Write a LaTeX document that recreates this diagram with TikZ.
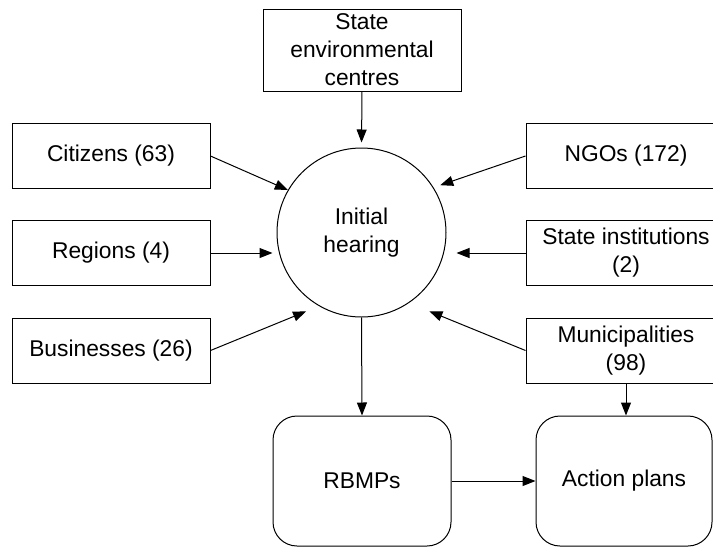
\documentclass[tikz,border=0pt]{standalone}
\usepackage{fontspec}
\setmainfont{Liberation Sans}
\usepackage{tikz}
\usetikzlibrary{arrows.meta, positioning, calc}
\usepackage{xcolor}
\definecolor{linegray}{HTML}{000000}

\begin{document}
\begin{tikzpicture}[x=0.5pt, y=-0.5pt,
        every node/.style={font=\fontsize{11.4}{14}\selectfont, align=center, inner sep=0pt},
        actorbox/.style={draw=linegray, line width=0.5pt, minimum width=99pt, minimum height=32.5pt},
        planbox/.style={draw=linegray, line width=0.5pt, rounded corners=12pt, minimum height=65pt},
        arr/.style={draw=linegray, line width=0.5pt, -{Triangle[length=6.5pt, width=5pt]}}]
    \useasboundingbox (0,0) rectangle (713,547);

    \node[circle, draw=linegray, line width=0.5pt, minimum size=84.5pt] (hearing) at (361.5,232.5) {Initial\\hearing};

    \node[actorbox, minimum height=41pt] (centres) at (362,50) {State\\environmental\\centres};

    \node[actorbox] (citizens) at (111,156) {Citizens (63)};
    \node[actorbox] (regions) at (111,253) {Regions (4)};
    \node[actorbox] (businesses) at (111,350.5) {Businesses (26)};

    \node[actorbox, minimum width=100pt] (ngos) at (626,156) {NGOs (172)};
    \node[actorbox, minimum width=100pt] (stateinst) at (626,253) {State institutions\\(2)};
    \node[actorbox, minimum width=100pt] (municip) at (626,350.5) {Municipalities\\(98)};

    \node[planbox, minimum width=89pt] (rbmps) at (362,481) {RBMPs};
    \node[planbox, minimum width=88pt] (actionplans) at (624,481) {Action plans};

    \draw[arr, shorten >=2.5pt] (centres.south) -- (hearing.north);
    \draw[arr] (citizens.east) -- (hearing.150);
    \draw[arr, shorten >=2pt] (regions.east) -- (regions.east -| hearing.west);
    \draw[arr, shorten >=7pt] (businesses.east) -- (hearing.240);
    \draw[arr, shorten >=3.5pt] (ngos.west) -- (hearing.32);
    \draw[arr, shorten >=5pt] (stateinst.west) -- (stateinst.west -| hearing.east);
    \draw[arr, shorten >=11pt] (municip.west) -- (hearing.304);
    \draw[arr] (hearing.south) -- (rbmps.north);
    \draw[arr] (municip.south) -- (municip.south |- actionplans.north);
    \draw[arr] (rbmps.east) -- (actionplans.west);
\end{tikzpicture}
\end{document}
